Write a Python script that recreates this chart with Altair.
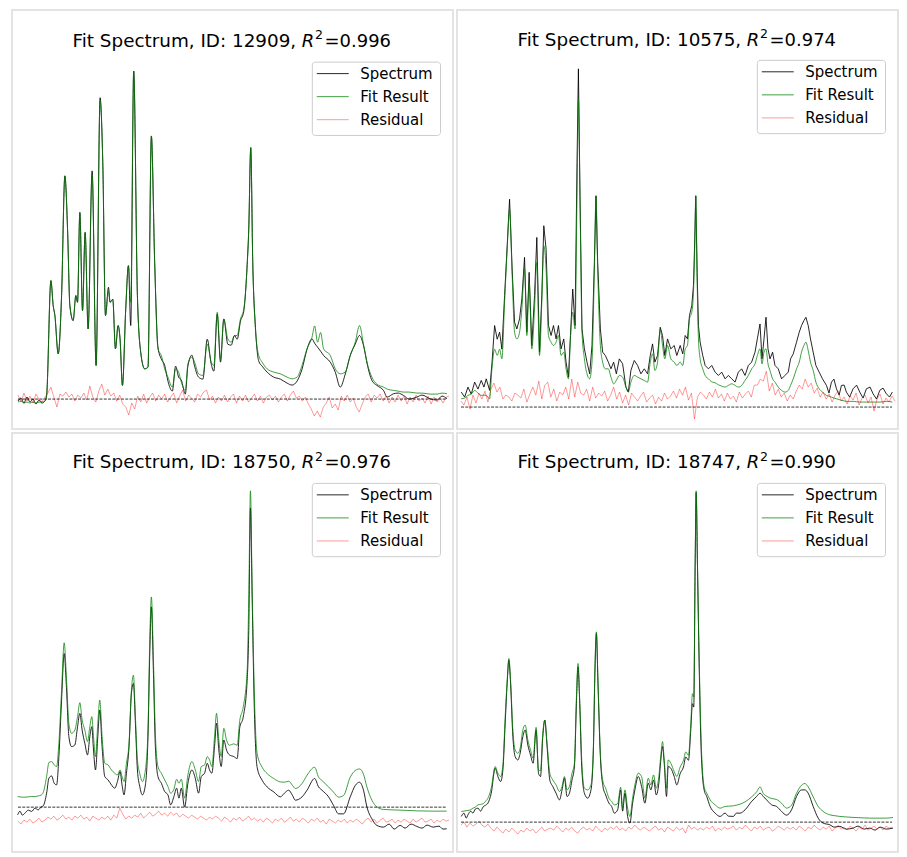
import altair as alt
import pandas as pd

SERIES = ["Spectrum", "Fit Result", "Residual"]
COLORS = ["#000000", "#008000", "#ff0000"]
OPAC = [0.85, 0.75, 0.4]

IDS = ["12909", "10575", "18750", "18747"]
R2 = ["0.996", "0.974", "0.976", "0.990"]

# (channel position, spectrum intensity, fit intensity)
P1_PTS = [
(0,-2,-3),(3,1,-2),(6,-4,-4),(9,2,-3),(12,-3,-4),(15,0,-3),(18,-5,-4),(21,-1,-3),(24,-4,-3),(27,-2,-2),
(28.7,3.7,3.7),(33,118.7,118.7),(35.3,93.7,93.7),(37,83.7,83.7),(40.3,45.3,45.3),(43.7,103.7,103.7),
(47,223.7,223.7),(49.7,170,170),(52,93.7,93.7),(55.3,78.7,78.7),(58,103.7,103.7),(59.7,97,97),
(62,187,187),(64.7,88.7,88.7),(67.3,167,167),(70.3,70.3,70.3),(74.3,228.7,225),(78.3,33.7,33.7),
(82.3,302,299),(85,237,237),(87.7,83.7,83.7),(90.7,112,108),(92.3,97,97),(95,100,100),(97.7,50.3,50.3),
(100.3,73.7,73.7),(102.3,60.3,60.3),(104.7,13.7,13.7),(108,90.3,90.3),(110.7,133.7,133.7),(113,73.7,97),
(116,328.7,328.7),(119.7,103.7,103.7),(123,47,47),(127,30.3,30.3),(130.3,32,32),(133.7,263.7,263.7),
(137,137,137),(140.3,52,50.3),(143.7,40,43.7),(147,34,30.3),(150.3,18,22),(154.7,8,12),(158,33,30.3),
(161,22,27),(163.7,19,17),(167.7,5,8.7),(170.3,33,35.3),(174.3,44,42),(177,33,37),(181,22,25.3),
(185.3,20,23.7),(189.7,60,55),(193.7,35,37),(196.3,28,33.7),(199.7,85,87),(203,37,40.3),(206.3,80.3,80.3),
(210.3,55,60.3),(213.7,54,57),(217,63.7,63.7),(219.7,60,63.7),(223,78,80.3),(226.3,88,90.3),(229.7,135,133.7),
(231.3,170.3,170.3),(233.3,252,252),(235.3,137,137),(238,72,70.3),(241.3,38,43.7),(244.7,33,37),(249.7,27,30.3),
(256.3,22,27),(263,20,25.3),(269.7,16,22),(274.7,14,20.3),(279.7,18,22),(284.7,30,33.7),(289.7,50,50.3),
(294.7,60.3,62),(297.3,56,73.3),(300.3,52,57),(303.3,48,66.7),(306.3,43.7,50.3),(313,37,43.7),(318,27,30.3),
(323,12,25.3),(328,25,27),(333,43.7,43.7),(338,55,57),(342.3,63.7,73.7),(346.3,53.7,55),(350.3,33.7,35),
(354.7,18.7,22),(359.7,13.7,15),(366.3,8.7,12),(370,2,10),(376.3,5.3,8.7),(381,6,8),(386.3,3.7,7),(392,0,7),
(399.7,2,6),(405,4,6),(413,0.3,5),(420,-1,5),(425,3,6),(430,0.3,5.3),
]
P1_RES = [
4,-3,6,-2,3,-4,5,0,-3,2,
6,12,2,-8,5,3,7,2,5,-2,
4,1,6,-1,13,2,-3,8,15,4,
10,3,6,-2,4,-5,-8,-16,-4,-10,
3,-3,5,-4,2,6,-2,4,0,5,
-3,2,6,-4,3,9,-2,4,1,-3,
5,2,7,9,-1,3,-4,2,-2,4,
-3,2,5,-4,3,-2,4,-3,1,5,
-2,3,-4,2,4,-1,3,-3,2,5,
-2,4,8,1,3,-2,2,-5,-10,-17,
-12,-18,-8,-4,2,-9,-5,-11,3,-2,
4,-3,1,-8,-13,-5,2,5,-3,4,
1,5,-2,3,-4,2,-3,4,-2,3,
-5,2,-3,4,-2,1,-4,3,-5,2,
-3,1,-4,2,3,
]

P2_PTS = [
(0.3,15,8.3),(3.7,10,9),(7,20,11.7),(10.3,13,13),(13.7,25,16.7),(17,18,14),(20.3,26.7,11.7),(23,20,12),
(25.3,28.3,11.7),(28.7,16.7,8.3),(31,43.3,38),(33.7,81.7,58),(36.3,68,51.7),(38.7,75,58),(41,58,48.3),
(43.7,111.7,105),(46.3,161.7,158.3),(48.7,208.3,198.3),(51.3,138.3,131.7),(53.7,85,75),(56,78.3,68.3),
(58.7,88.3,75),(61,108.3,98.3),(63.7,150,138.3),(66,75,71.7),(68.3,135,125),(71,61.7,58.3),(73.7,111.7,98.3),
(76,170,145),(78.7,55,51.7),(81,111.7,105),(83,181.7,161.7),(85.3,158.3,138.3),(87.7,81.7,71.7),(90.3,71.7,65),
(92.7,81.7,61.7),(95.3,68.3,65),(97.7,81.7,71.7),(100.3,58.3,51.7),(103,68.3,55),(105.3,45,38.3),(107.7,30,28.3),
(109.7,71.7,68.3),(112,118.3,95),(114.3,81.7,78.3),(116.3,245,211.7),(117.7,339,308.3),(119.3,211.7,205),
(121.3,78.3,75),(123.7,58.3,48.3),(126.3,45,33.3),(129,33.3,28.3),(131.3,61.7,45),(133.7,145,138.3),
(135.3,211.7,211.7),(137,145,138.3),(139.7,78.3,61.7),(142,55,45),(144.7,51.7,38.3),(147.7,45,38.3),
(150.3,38.3,30),(153,45,23.3),(155.7,33.3,26.7),(158.7,48.3,31.7),(162,43.3,30),(165.3,20,20),(167.7,15,15),
(170.3,36.7,25),(173.7,46.7,31.7),(177,41.7,30),(180.3,33.3,28.3),(183.7,38.3,26.7),(187,33.3,25),
(189.7,51.7,45),(192,63.3,53.3),(194.3,45,36.7),(197,51.7,45),(199.7,80,78.3),(202,71.7,61.7),(204.3,51.7,48.3),
(207,68.3,61.7),(210.3,58.3,48.3),(213.7,61.7,45),(216.3,51.7,41.7),(219.7,61.7,45),(222.3,53.3,41.7),
(224.7,71.7,58.3),(227,68.3,61.7),(229,91.7,88.3),(231.3,101.7,95),(233,121.7,115),(234.3,168.3,160),
(235.3,211.7,211.7),(236.7,135,125),(238,81.7,68.3),(239.7,65,48.3),(242.3,51.7,38.3),(244.7,41.7,31.7),
(248,38.3,28.3),(251.3,41.7,25.3),(254.7,35,24.3),(258,31.7,22.3),(261.3,35,21),(264.7,28.3,20),(268,31.7,21.7),
(271.3,28.3,23.3),(274.7,25,21.7),(278,35,20),(281.3,38.3,21.7),(284.7,31.7,26.7),(288,41.7,31.7),
(291.3,45,38.3),(294.7,55,43.3),(297,68.3,51.7),(299.7,83.3,58.3),(301.7,48.3,43.3),(303.7,68.3,55),
(305.7,90,58.3),(307.7,58.3,43.3),(309.7,48.3,36.7),(312.3,55,28.3),(314.7,41.7,25),(318,38.3,20),
(321.3,28.3,16.7),(324.7,31.7,15),(328,35,16.7),(330.3,48.3,21.7),(333,53.3,28.3),(336.3,65,38.3),
(339,75,45),(341.3,81.7,55),(343.7,86.7,61.7),(345.7,90,65),(348,81.7,56.7),(350.3,68.3,45),(353,55,36.7),
(355.7,41.7,25),(359,35,18.3),(362.3,28.3,15),(366.3,21.7,11.7),(368.8,14,11),(371.3,25,10),(373.8,28,9),
(376.3,18.3,8.3),(379,12,7.5),(381.3,21.7,6.7),(384,22,6.2),(386.3,15,5.7),(389.5,10,5.7),(393,18.3,5.7),
(396.5,22,5.3),(399.7,15,5),(403,9,5),(406.3,18.3,5),(410,20,5),(413,13.3,5),(416.5,8,5),(419.7,16.7,5),
(423,19,5.3),(426.3,13.3,5.7),(429.5,10,5.5),(432.3,15,5),
]
P2_RES = [
6,2,10,-2,12,4,14,8,16,5,18,
24,15,20,8,12,10,6,14,12,9,
18,5,13,20,12,26,8,22,25,10,
18,6,15,12,20,8,28,10,25,14,
12,18,6,20,9,14,11,16,6,12,
20,8,15,4,12,2,14,10,6,11,
15,5,9,12,3,10,6,14,8,11,
16,9,18,12,20,7,14,-12,10,15,
12,8,15,10,18,9,13,6,14,8,
11,5,15,9,13,16,10,22,22,28,
26,36,16,24,12,18,10,14,6,12,
8,16,22,18,28,20,24,14,19,10,
15,8,13,5,12,16,6,10,3,11,
7,14,2,9,12,4,10,-4,8,13,
3,9,5,11,6,
]

P3_PTS = [
(-0.3,-7.7,10.7),(2,-4,10.3),(4.3,-8,10),(7,-6,10),(10.3,-3,10.3),(13.7,-4.3,10.7),(17,-1,10.5),
(20.3,-2.7,11.3),(23,0,12),(25.3,1.3,14.7),(28.7,14,30.7),(31,29,44.7),(33.7,31.3,45.7),(36.3,24,42.3),
(38.7,22.3,40.7),(41,50.7,64),(43.7,107.3,117.3),(46.3,154,164.7),(48.7,117.3,127.3),(51,70.7,84),
(53.7,60.7,74),(57,62.3,77.3),(59.7,80.7,90.7),(62,94,104.7),(64.3,77.3,87.3),(67,64,77.3),(69.7,52.3,65.7),
(72,70.7,80.7),(74,80.7,90.7),(75.7,57.3,70.7),(77.7,37.3,50.7),(80,70.7,84),(82,97.3,107.3),(84.3,60.7,70.7),
(87,30.7,44),(90.3,27.3,42.3),(93.7,22.3,37.3),(97,19,34),(99.7,25.7,32.3),(102.3,35.7,37.3),(104.3,22.3,30.7),
(106.3,12.3,25.7),(108.7,34,44),(111.3,60.7,64),(113.7,114,117.3),(115.7,124,132.3),(117.7,84,90.7),
(119.7,37.3,47.3),(122,21,34),(124.7,12.3,25.7),(127.7,22.3,37.3),(130.3,70.7,77.3),(132,150.7,164),
(133.7,200.7,210.7),(135.7,137.3,150.7),(137.7,60.7,74),(140.3,30.7,40.7),(143.7,24,34),(147,15.7,27.3),
(150.3,12.3,20.7),(153,2.3,14),(156.3,10.7,18),(159,19,28),(161.3,9,24),(163.7,19,28),(167,0,9),
(170.3,24,32.3),(174.3,37.3,45.7),(177.7,29,37.3),(181,14,25.7),(183.7,30.7,40.7),(187,34,42.3),
(189.7,44,50.7),(192,37.3,47.3),(194.3,34,40.7),(197,60.7,70.7),(199,84,94),(201.3,57.3,67.3),
(203.7,40.7,50.7),(206.3,67.3,79),(209,57.3,67.3),(212,52.3,62),(216.3,50.7,63.5),(219.7,48.7,62),
(222.3,80,87),(225.7,90,100),(229.7,127,137),(231.3,177,210),(233,300,317),(234.7,210,220),(237,93.7,110),
(239.7,40,53.7),(244.7,27,40),(249.7,20.3,33.7),(256.3,15.3,28.7),(263,10.3,25.3),(267,14,25),(271.3,17,26),
(275,12,22),(278,7,18.7),(284.7,10.3,23.7),(289.7,17,32),(297.3,28.7,40),(301.3,20.3,30),(304.7,17,26.7),
(311.3,10.3,20.3),(316.3,1.7,15),(321.3,-6.7,10),(326.3,-6.7,11.7),(333,10.3,30),(338,21.7,36.7),
(342.3,25,38.3),(346.3,17,33),(349.7,0.3,20.3),(354.7,-11.7,7),(359.7,-18.3,0.3),(366.3,-20,-2.3),
(372,-17,-2.6),(377,-22,-2.8),(383,-18.3,-3),(388,-21,-3.2),(394,-17,-3.4),(399.7,-19.3,-3.7),
(405,-21,-3.8),(410,-18,-3.9),(416.3,-20,-4),(422,-19,-4),(426,-22,-4),(429.7,-21.7,-4),
]
P3_RES = [
-14,-17,-13,-15,-12,-16,-14,-11,-15,-13,
-10,-12,-9,-13,-11,-8,-12,-10,-13,-9,
-11,-8,-12,-10,-14,-9,-11,-13,-10,-12,
-9,-13,-8,-11,-1,-7,-12,-9,-11,-8,
-10,-6,-11,-8,-5,-9,-7,-4,-8,-6,
-9,-5,-8,-6,-10,-7,-9,-11,-8,-10,
-12,-9,-11,-13,-10,-12,-9,-11,-14,-10,
-12,-15,-11,-13,-10,-14,-12,-9,-13,-11,
-14,-12,-15,-11,-13,-16,-12,-14,-11,-15,
-13,-10,-14,-12,-15,-11,-13,-16,-12,-14,
-11,-15,-13,-17,-12,-14,-16,-13,-15,-12,
-16,-13,-15,-12,-14,-17,-13,-11,-15,-12,
-16,-13,-11,-15,-14,-12,-16,-13,-15,-12,
-14,-16,-12,-15,-13,-11,-15,-14,-12,-16,
-13,-15,-12,-14,-13,
]

P4_PTS = [
(0.3,5.7,10.7),(3,9,11),(5.3,4,11.5),(7,7.3,11.7),(9.7,11,12.5),(12,9,14),(14.3,13,15),(17,14,17.3),
(19.7,11,17.8),(22,15,18.3),(24.7,17,21),(27,19,24),(30.3,29,34),(34.3,54,55.7),(37,45.7,49),(39.7,40.7,45.7),
(42,52.3,57.3),(44.3,99,105.7),(46.3,139,142.3),(48,162.3,164),(49.7,139,142.3),(52,85.7,92.3),(54.3,65.7,72.3),
(57,62.3,69),(59.3,69,74),(62,85.7,92.3),(64.3,92.3,97.3),(67,77.3,82.3),(69.7,67.3,72.3),(72.3,59,64),
(75.3,92.3,95),(77.7,49,52.3),(79.7,45.7,51.7),(82,85.7,89),(84,102.3,102.3),(86.3,75.7,79),(89,42.3,49),
(92,35.7,42.3),(95.3,29,37.3),(98.7,22.3,30.7),(101.3,32.3,35.7),(103.7,44,45.7),(106.3,25.7,32.3),
(108.7,29,35.7),(111.3,42.3,49),(113.7,55.7,59),(115.7,119,125.7),(117.3,155.7,159),(119,119,122.3),
(121,55.7,62.3),(123.7,29,34),(127,24,32.3),(130.3,32.3,37.3),(132.7,72.3,75.7),(134.3,152.3,157.3),
(135.7,189,190.7),(137.3,139,142.3),(139.7,65.7,69),(142.3,35.7,40.7),(145,27.3,34),(148.3,19,24),
(151,15.7,20.7),(153.7,9,17.3),(157,12.3,18.3),(160,32.3,35),(162,11,14),(164.3,29,32.3),(167,5.7,14),
(169.3,-1,5.7),(172,19,24),(174.3,32.3,37.3),(177.7,45.7,49),(181,35.7,45.7),(184.3,19,24),(187.7,39,44),
(190.3,32.3,37.3),(193,42.3,47.3),(195.7,27.3,34),(198.3,39,45.7),(200.3,62.3,67.3),(202,75.7,80.7),
(203.7,59,62.3),(206,25.7,34),(207.7,55.7,62.3),(210.3,54,59),(213.7,45.7,50.7),(216.3,37.3,45.7),
(219.7,48.7,55.3),(223,55.3,62),(225.3,65.3,70.3),(228,62,67),(230.3,92,98.7),(232,118.7,128.7),
(233.3,115.3,125.3),(234.7,258.7,258.7),(235.7,330.3,332),(237,258.7,258.7),(238.7,158.7,165.3),
(240.7,72.3,82.3),(243.7,32.3,35.7),(246.3,25.7,29),(249.7,15.7,22.3),(254.7,9,17.3),(259.7,5.7,14),
(264.7,9,15.7),(268,6,16),(273,5.7,16.3),(276,9,17),(279.7,9,18),(284.7,12.3,20.3),(291.3,20.7,25.3),
(296.3,25.7,30.3),(299.7,29,35.3),(303,25.7,28.7),(306.3,22.3,26),(311.3,17.3,23.7),(316.3,15.7,22.7),
(321.3,10.7,19),(326.3,7,14),(331.3,12.3,17),(336.3,25.7,29),(341.3,32.3,37),(344.7,32.3,38.7),(348,29,35.3),
(353,15.7,25.3),(358,4,15.7),(363,-1,10.7),(369.7,-2.7,7.3),(374,-5,6.5),(379.7,-4.3,5.7),(386,-7,5.2),
(393,-6,4.7),(398,-4,4.5),(404,-7,4.2),(409.7,-6,4),(415,-8,4),(420,-5,4),(426.3,-7,4),(433,-6,4.7),
]
P4_RES = [
-3,0,-5,-1,-4,-2,1,-3,-5,-2,
-6,-9,-5,-8,-11,-7,-10,-6,-9,-12,
-8,-10,-6,-9,-7,-11,-8,-5,-9,-7,
-6,-8,-4,-7,-10,-6,-8,-5,-9,-11,
-7,-5,-8,-6,-9,-4,-7,-10,-6,-8,
-5,-7,-4,-8,-6,-9,-5,-7,-3,-6,
-8,-5,-7,-9,-6,-4,-8,-6,-10,-5,
-7,-9,-5,-8,-6,-11,-3,-7,-5,-8,
-6,-8,-5,-7,-4,-9,-6,-8,-5,-7,
-6,-4,-8,-5,-7,-3,-6,-9,-5,-7,
-4,-8,-6,-5,-9,-7,-4,-6,-8,-5,
-7,-5,-8,-4,-6,-9,-5,-7,-3,-6,
-8,-5,-7,-4,-9,-6,-3,-7,-5,-8,
-4,-6,-9,-5,-7,-3,-8,-6,-4,-7,
-5,-8,-4,-6,-5,
]

# spectrum line interpolation per panel (panel 2 is very noisy, kept jagged)
SPEC_INTERP = ["monotone", "linear", "monotone", "monotone"]

FONT = "DejaVu Sans"
W, H = 442, 420
ONE = pd.DataFrame({"k": [0]})


def panel(idx, pts, res, xdom, ydom, xend, ty, lt):
    df = pd.DataFrame(pts, columns=["x", "spec", "fit"])
    dr = pd.DataFrame({"x": [3 * i for i in range(len(res))], "res": res})
    dz = pd.DataFrame({"x": [0], "x2": [xend], "y": [0]})
    xs = alt.X("x:Q", scale=alt.Scale(domain=xdom, nice=False, zero=False), axis=None)

    def ys(f):
        return alt.Y(f"{f}:Q", scale=alt.Scale(domain=ydom, nice=False, zero=False), axis=None)

    layers = [
        alt.Chart(df).mark_line(color=COLORS[0], opacity=OPAC[0], strokeWidth=1,
                                interpolate=SPEC_INTERP[idx]).encode(x=xs, y=ys("spec")),
        alt.Chart(df).mark_line(color=COLORS[1], opacity=OPAC[1], strokeWidth=1,
                                interpolate="monotone").encode(x=xs, y=ys("fit")),
        alt.Chart(dr).mark_line(color=COLORS[2], opacity=OPAC[2], strokeWidth=1).encode(x=xs, y=ys("res")),
        alt.Chart(dz).mark_rule(color="black", strokeWidth=0.8, strokeDash=[3, 1.3]).encode(
            x=xs, x2="x2:Q", y=ys("y")),
    ]
    xr = 290.5
    txt = dict(font=FONT, color="black", baseline="alphabetic")
    layers += [
        alt.Chart(ONE).mark_text(align="right", fontSize=18.4, **txt).encode(
            x=alt.value(xr - 5.7), y=alt.value(ty), text=alt.value(f"Fit Spectrum, ID: {IDS[idx]},")),
        alt.Chart(ONE).mark_text(align="left", fontSize=18, fontStyle="italic", **txt).encode(
            x=alt.value(xr), y=alt.value(ty), text=alt.value("R")),
        alt.Chart(ONE).mark_text(align="left", fontSize=12.6, **txt).encode(
            x=alt.value(xr + 13.3), y=alt.value(ty - 7.5), text=alt.value("2")),
        alt.Chart(ONE).mark_text(align="left", fontSize=18, **txt).encode(
            x=alt.value(xr + 22.8), y=alt.value(ty), text=alt.value(f"={R2[idx]}")),
        alt.Chart(ONE).mark_rect(fill="white", fillOpacity=0.8, stroke="#cccccc", strokeWidth=1,
                                 cornerRadius=3).encode(
            x=alt.value(301), x2=alt.value(429.5), y=alt.value(lt), y2=alt.value(lt + 73.5)),
    ]
    for i, name in enumerate(SERIES):
        yrow = lt + 11.5 + 23.1 * i
        layers.append(alt.Chart(ONE).mark_rule(color=COLORS[i], opacity=OPAC[i], strokeWidth=1).encode(
            x=alt.value(305.5), x2=alt.value(337.5), y=alt.value(yrow)))
        layers.append(alt.Chart(ONE).mark_text(align="left", baseline="middle", fontSize=15, font=FONT,
                                               color="black").encode(
            x=alt.value(349), y=alt.value(yrow + 0.5), text=alt.value(name)))
    return alt.layer(*layers).properties(width=W, height=H)


p1 = panel(0, P1_PTS, P1_RES, [-6, 436], [-30, 390], 430, 37, 52.3)
p2 = panel(1, P2_PTS, P2_RES, [-4, 438], [-22, 398], 432, 36, 50.5)
p3 = panel(2, P3_PTS, P3_RES, [-6, 436], [-45, 375], 430, 35.5, 50.5)
p4 = panel(3, P4_PTS, P4_RES, [-4, 438], [-30, 390], 432, 35.5, 50.5)

chart = alt.vconcat(
    alt.hconcat(p1, p2, spacing=2),
    alt.hconcat(p3, p4, spacing=2),
    spacing=2,
).properties(
    padding={"left": 3, "top": 0, "right": 0, "bottom": 0}
).configure_view(stroke="#e3e3e3", strokeWidth=2)

chart.save("out.html", embed_options={"renderer": "svg", "actions": False})
